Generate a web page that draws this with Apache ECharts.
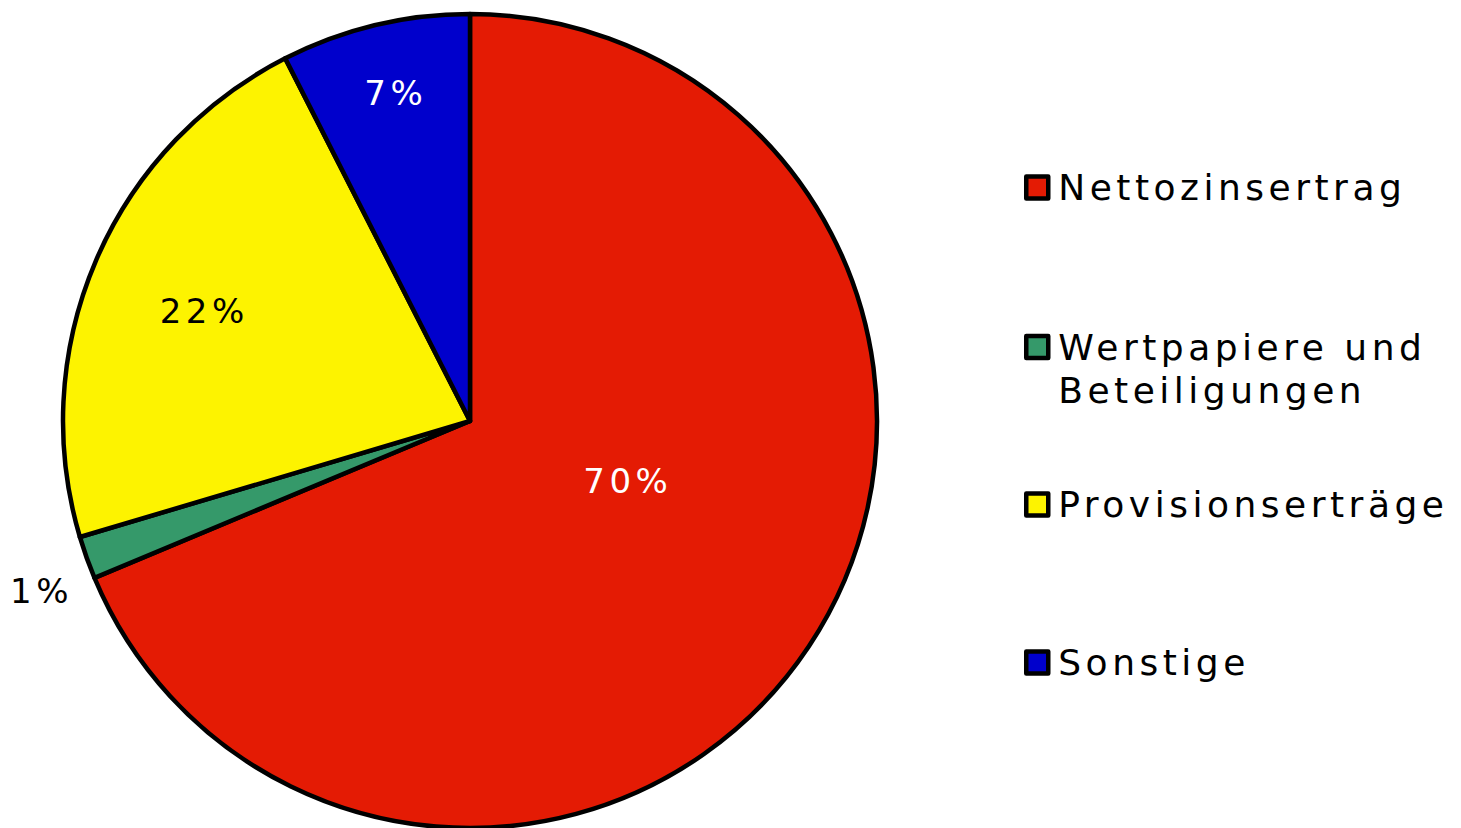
<!DOCTYPE html>
<html>
<head>
<meta charset="utf-8">
<script src="https://cdn.jsdelivr.net/npm/echarts@6/dist/echarts.min.js"></script>
<style>
  html, body { margin: 0; padding: 0; background: #fff; }
  #chart { width: 1461px; height: 828px; }
  #chart text { letter-spacing: 4.5px; }
</style>
</head>
<body>
<div id="chart"></div>
<script>
const categories = ['Nettozinsertrag', 'Wertpapiere und Beteiligungen', 'Provisionserträge', 'Sonstige'];
const values = [68.7, 1.7, 22.1, 7.5];
const valueLabels = ['70%', '1%', '22%', '7%'];
const colors = ['#E41B04', '#35996A', '#FDF300', '#0000CC'];
const labelColors = ['#ffffff', '#000000', '#000000', '#ffffff'];
const legendLabels = ['Nettozinsertrag', '{e| }\n{a|Wertpapiere und}\n{a|Beteiligungen}', 'Provisionserträge', 'Sonstige'];

// label offsets (style) from the default inside position
const labelOffsets = [[-14, -54], [-234, 101], [-76, -29], [-26, -127]];
const legendTops = [166, 282.5, 483, 641];

const FONT = 'DejaVu Sans';
const FS = 36;
const LFS = 34;

const chart = echarts.init(document.getElementById('chart'), null, { renderer: 'svg' });

const legends = categories.map((name, i) => ({
  orient: 'vertical',
  left: 1024,
  top: legendTops[i],
  padding: 0,
  itemWidth: 22,
  itemHeight: 22,
  selectedMode: false,
  data: [name],
  icon: 'rect',
  itemStyle: { borderColor: '#000', borderWidth: 4.5 },
  formatter: () => legendLabels[i],
  textStyle: {
    fontFamily: FONT,
    fontSize: FS,
    fontWeight: 'normal',
    color: '#000',
    lineHeight: 43,
    padding: [0, 0, 0, 5],
    rich: {
      e: { fontFamily: FONT, fontSize: FS, lineHeight: 43, color: '#000' },
      a: { fontFamily: FONT, fontSize: FS, lineHeight: 43, color: '#000' }
    }
  }
}));

chart.setOption({
  animation: false,
  backgroundColor: '#fff',
  legend: legends,
  series: [{
    type: 'pie',
    center: [470, 421],
    radius: 407,
    startAngle: 90,
    clockwise: true,
    avoidLabelOverlap: false,
    emphasis: { disabled: true },
    itemStyle: { borderColor: '#000', borderWidth: 4.5 },
    label: {
      show: true,
      position: 'inside',
      fontFamily: FONT,
      fontSize: LFS,
      fontWeight: 'normal',
      formatter: (p) => valueLabels[p.dataIndex]
    },
    labelLine: { show: false },
    labelLayout: (p) => ({ dx: labelOffsets[p.dataIndex][0], dy: labelOffsets[p.dataIndex][1] }),
    data: categories.map((name, i) => ({
      name: name,
      value: values[i],
      itemStyle: { color: colors[i] },
      label: { color: labelColors[i] }
    }))
  }]
});
</script>
</body>
</html>
